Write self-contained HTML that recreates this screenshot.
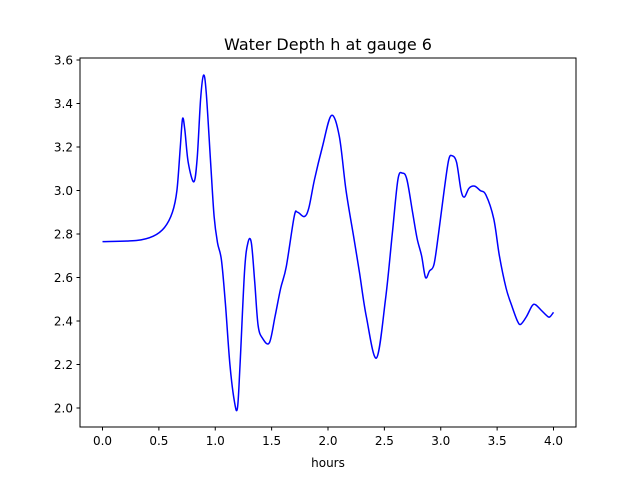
<!DOCTYPE html>
<html><head><meta charset="utf-8"><style>
body{margin:0;background:#fff}
svg text{font-family:"DejaVu Sans","Liberation Sans",sans-serif;fill:#000}
</style></head><body>
<svg width="640" height="480">
<rect width="640" height="480" fill="#fff"/>
<text x="328" y="50" font-size="16" text-anchor="middle">Water Depth h at gauge 6</text>
<g id="plot"></g>
<rect x="80" y="58" width="496" height="369" fill="none" stroke="#000" stroke-width="1"/>
<g id="ticks"></g>
<text x="328" y="467" font-size="12" text-anchor="middle">hours</text>
</svg>
<script>
const hours=[0,0.3,0.45,0.55,0.62,0.66,0.69,0.71,0.73,0.76,0.81,0.84,0.87,0.896,0.92,0.96,0.99,1.02,1.055,1.09,1.13,1.17,1.197,1.22,1.26,1.29,1.32,1.35,1.38,1.42,1.48,1.53,1.58,1.63,1.70,1.73,1.79,1.83,1.88,1.95,2.03,2.10,2.16,2.23,2.28,2.34,2.43,2.51,2.57,2.62,2.66,2.70,2.75,2.79,2.83,2.865,2.90,2.94,2.98,3.03,3.07,3.10,3.14,3.18,3.21,3.25,3.30,3.35,3.40,3.47,3.52,3.58,3.63,3.68,3.71,3.76,3.81,3.84,3.89,3.95,3.97,4.0];
const depth=[2.765,2.77,2.79,2.83,2.90,3.0,3.2,3.33,3.28,3.13,3.04,3.15,3.42,3.53,3.45,3.12,2.88,2.76,2.68,2.48,2.2,2.03,2.0,2.2,2.63,2.76,2.76,2.58,2.38,2.32,2.30,2.42,2.55,2.65,2.88,2.90,2.88,2.92,3.05,3.2,3.345,3.25,3.0,2.78,2.62,2.42,2.23,2.5,2.8,3.05,3.08,3.05,2.9,2.78,2.70,2.60,2.63,2.66,2.8,3.0,3.14,3.16,3.13,3.0,2.97,3.01,3.02,3.0,2.98,2.87,2.7,2.55,2.47,2.40,2.385,2.42,2.47,2.475,2.45,2.42,2.42,2.44];
const xTicks=[0,0.5,1,1.5,2,2.5,3,3.5,4];
const yTicks=[2.0,2.2,2.4,2.6,2.8,3.0,3.2,3.4,3.6];
const X=v=>102.5+v*112.75;
const Y=v=>408-(v-2.0)*217.5;
const NS="http://www.w3.org/2000/svg";
const pts=hours.map((h,i)=>[X(h),Y(depth[i])]);
let d="M"+pts[0][0]+","+pts[0][1];
for(let i=0;i<pts.length-1;i++){
 const p0=pts[Math.max(0,i-1)],p1=pts[i],p2=pts[i+1],p3=pts[Math.min(pts.length-1,i+2)];
 const c1=[p1[0]+(p2[0]-p0[0])/6,p1[1]+(p2[1]-p0[1])/6];
 const c2=[p2[0]-(p3[0]-p1[0])/6,p2[1]-(p3[1]-p1[1])/6];
 d+=` C${c1[0]},${c1[1]} ${c2[0]},${c2[1]} ${p2[0]},${p2[1]}`;
}
const path=document.createElementNS(NS,"path");
path.setAttribute("d",d);path.setAttribute("fill","none");path.setAttribute("stroke","#0000ff");path.setAttribute("stroke-width","1.5");


document.getElementById("plot").appendChild(path);
const tg=document.getElementById("ticks");
xTicks.forEach(t=>{
 const l=document.createElementNS(NS,"line");
 l.setAttribute("x1",X(t));l.setAttribute("x2",X(t));l.setAttribute("y1",427);l.setAttribute("y2",430.5);l.setAttribute("stroke","#000");
 
 
 tg.appendChild(l);
 const tx=document.createElementNS(NS,"text");
 tx.setAttribute("x",X(t));tx.setAttribute("y",445);tx.setAttribute("font-size","12");tx.setAttribute("text-anchor","middle");
 tx.textContent=t.toFixed(1);
 
 
 tg.appendChild(tx);
});
yTicks.forEach(t=>{
 const l=document.createElementNS(NS,"line");
 l.setAttribute("x1",76.5);l.setAttribute("x2",80);l.setAttribute("y1",Y(t));l.setAttribute("y2",Y(t));l.setAttribute("stroke","#000");
 
 
 tg.appendChild(l);
 const tx=document.createElementNS(NS,"text");
 tx.setAttribute("x",73);tx.setAttribute("y",Y(t)+4.5);tx.setAttribute("font-size","12");tx.setAttribute("text-anchor","end");
 tx.textContent=t.toFixed(1);
 
 
 tg.appendChild(tx);
});
</script>
</body></html>
